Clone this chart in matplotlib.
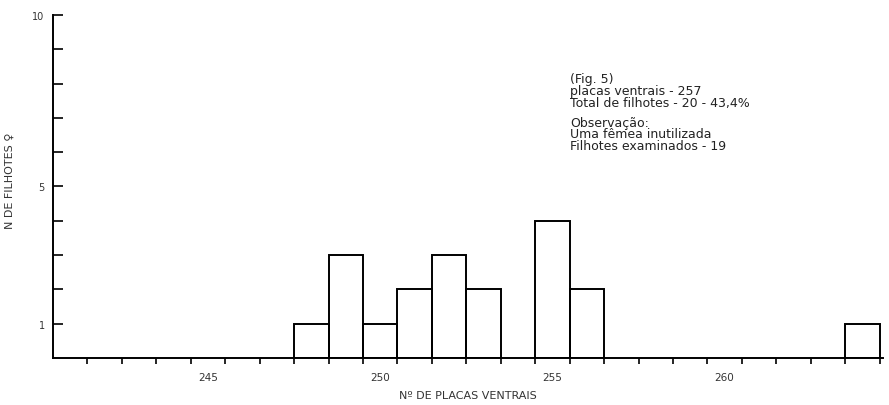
import matplotlib
matplotlib.use("Agg")
import matplotlib.pyplot as plt
from matplotlib.ticker import FixedLocator, FixedFormatter

plt.rcParams['font.family'] = ['DejaVu Sans']

# Ventral scale counts and number of offspring per count
placas = [248, 249, 250, 251, 252, 253, 255, 256, 264]
filhotes = [1, 3, 1, 2, 3, 2, 4, 2, 1]

x_labels = [245, 250, 255, 260]
y_labels = {1: "1", 5: "5", 10: "10"}

notes = ["(Fig. 5)",
         "placas ventrais - 257",
         "Total de filhotes - 20 - 43,4%",
         "Observação:",
         "Uma fêmea inutilizada",
         "Filhotes examinados - 19"]

fig = plt.figure(figsize=(8.89, 4.06), dpi=100)
ax = fig.add_axes([0.0596, 0.1158, 0.9337, 0.8448])

ax.bar(placas, filhotes, width=1.0, fill=False, edgecolor="black",
       linewidth=1.4, align="center")

ax.set_xlim(240.5, 264.6)
ax.set_ylim(0, 10)

for s in ("top", "right"):
    ax.spines[s].set_visible(False)
for s in ("left", "bottom"):
    ax.spines[s].set_linewidth(1.4)

# x: bin edges as small outward ticks, labels at bin centres
edges = [e + 0.5 for e in range(241, 265)]
ax.xaxis.set_minor_locator(FixedLocator(edges))
ax.xaxis.set_major_locator(FixedLocator(x_labels))
ax.tick_params(axis="x", which="minor", direction="out", length=4, width=1.2)
ax.tick_params(axis="x", which="major", length=0, pad=10, labelsize=7.5,
               labelcolor="#333333")

# y: inward ticks at every unit, labels only at 1, 5, 10
yt = list(range(1, 11))
ax.yaxis.set_major_locator(FixedLocator(yt))
ax.yaxis.set_major_formatter(FixedFormatter([y_labels.get(v, "") for v in yt]))
ax.tick_params(axis="y", direction="in", length=7, width=1.2, labelsize=7,
               pad=6, labelcolor="#333333")

ax.set_xlabel("Nº DE PLACAS VENTRAIS", fontsize=8, color="#333333",
              labelpad=6)
ax.set_ylabel("N DE FILHOTES ♀", fontsize=8, color="#333333")
ax.yaxis.set_label_coords(-0.046, 0.52)

# annotation block, in pixel rows from the top of the figure
rows = [79, 91, 103, 123, 135, 147]
for t, r in zip(notes, rows):
    fig.text(570 / 889, 1 - r / 406, t, fontsize=9,
             color="#222222", va="center", ha="left")

fig.savefig("out.png", dpi=100)
